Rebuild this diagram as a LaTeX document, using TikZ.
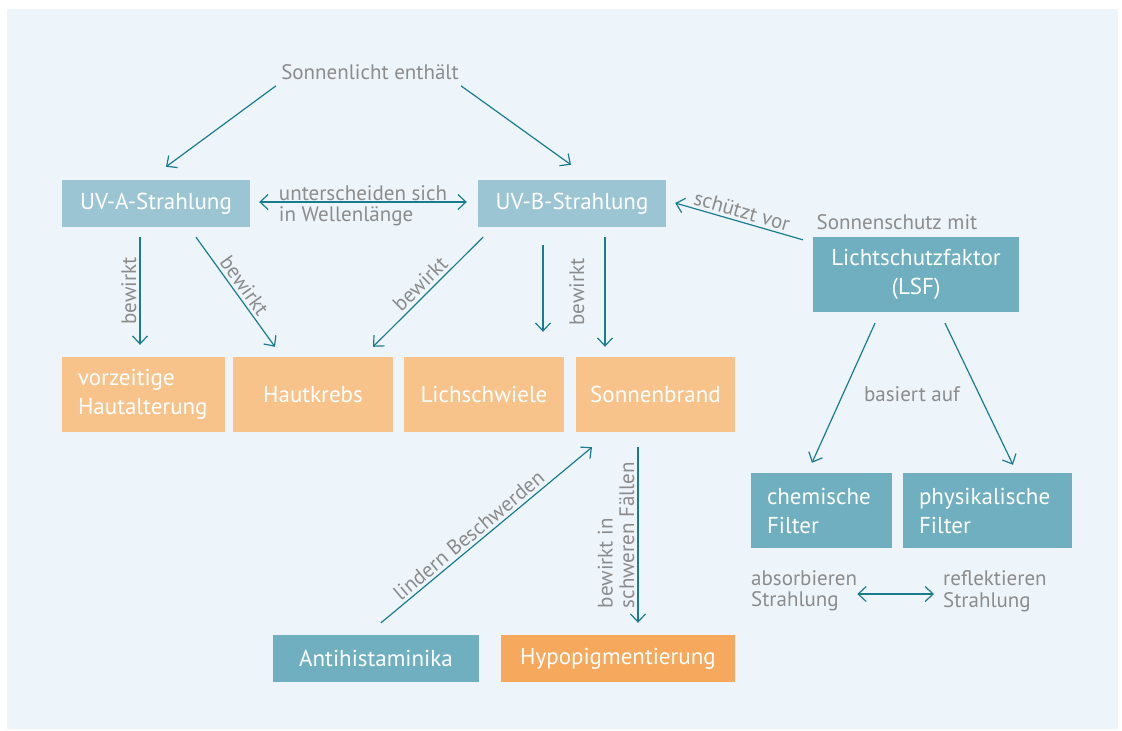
\documentclass[tikz,border=0pt]{standalone}
\usepackage{fontspec}
\setmainfont{PT Sans}
\usetikzlibrary{arrows.meta,calc}
\definecolor{sunbg}{HTML}{EDF4FA}
\definecolor{uvblue}{HTML}{9CC5D3}
\definecolor{lsfblue}{HTML}{6FAFC0}
\definecolor{burnlight}{HTML}{F8C38B}
\definecolor{burndark}{HTML}{F6A85C}
\definecolor{arrowteal}{HTML}{1A7D8F}
\definecolor{lblgray}{HTML}{8C8C8C}

\begin{document}
\begin{tikzpicture}[x=1pt,y=-1pt,
  box/.style={inner sep=0pt, text=white, align=center,
    font=\fontsize{23}{29}\selectfont},
  leftbox/.style={box, inner xsep=16pt, align=left},
  lbl/.style={text=lblgray, inner sep=3pt, font=\fontsize{21}{21.5}\selectfont},
  arr/.style={draw=arrowteal, line width=1.2pt,
    -{Straight Barb[length=8pt,width=15pt,line width=1.2pt]}},
  dblarr/.style={arr, {Straight Barb[length=8pt,width=15pt,line width=1.2pt]}-{Straight Barb[length=8pt,width=15pt,line width=1.2pt]}}]
  \useasboundingbox (0,0) rectangle (1122,731);
  \fill[sunbg] (7,9) rectangle (1118,729);

  % radiation
  \node[lbl] (licht) at (370,72) {Sonnenlicht enthält};
  \node[box, fill=uvblue, minimum width=188pt, minimum height=47pt] (uva) at (156,203.5) {UV-A-Strahlung};
  \node[box, fill=uvblue, minimum width=188pt, minimum height=47pt] (uvb) at (572,203.5) {UV-B-Strahlung};

  % effects
  \node[leftbox, fill=burnlight, text width=131pt, minimum height=75pt] (vorz) at (143.5,394.5) {vorzeitige\\Hautalterung};
  \node[box, fill=burnlight, minimum width=160pt, minimum height=75pt] (haut) at (313,394.5) {Hautkrebs};
  \node[box, fill=burnlight, minimum width=160pt, minimum height=75pt] (lich) at (484,394.5) {Lichschwiele};
  \node[box, fill=burnlight, minimum width=159pt, minimum height=75pt] (sonn) at (655.5,394.5) {Sonnenbrand};
  \node[box, fill=lsfblue, minimum width=206pt, minimum height=47pt] (anti) at (376,658.5) {Antihistaminika};
  \node[box, fill=burndark, minimum width=234pt, minimum height=47pt] (hypo) at (618,658.5) {Hypopigmentierung};

  % protection
  \node[lbl] (schutz) at (897,222) {Sonnenschutz mit};
  \node[box, fill=lsfblue, minimum width=206pt, minimum height=75pt] (lsf) at (916,274.5) {Lichtschutzfaktor\\(LSF)};
  \node[lbl] (basis) at (912,394) {basiert auf};
  \node[leftbox, fill=lsfblue, text width=109pt, minimum height=75pt] (chem) at (821.5,510.5) {chemische\\Filter};
  \node[leftbox, fill=lsfblue, text width=137pt, minimum height=75pt] (phys) at (987.5,510.5) {physikalische\\Filter};
  \node[lbl, inner sep=0pt, anchor=west, align=left] (absorb) at (751,591) {absorbieren\\Strahlung};
  \node[lbl, inner sep=0pt, anchor=west, align=left] (reflekt) at (943,591) {reflektieren\\Strahlung};

  \draw[arr] ([xshift=-94pt,yshift=-3pt]licht.south) -- ([xshift=10pt,yshift=13pt]uva.north);
  \draw[arr] ([xshift=91pt,yshift=-3pt]licht.south) -- ([xshift=-1pt,yshift=15pt]uvb.north);
  \draw[dblarr] ([xshift=9pt,yshift=1.5pt]uva.east) -- ([xshift=-11pt,yshift=1.5pt]uvb.west)
    node[lbl, midway, yshift=-4pt, align=left] {unterscheiden sich\\in Wellenlänge};
  \draw[arr] ([xshift=-10pt,yshift=-3pt]lsf.north west) -- ([xshift=9pt,yshift=0.5pt]uvb.east)
    node[lbl, midway, sloped, above] {schützt vor};

  \draw[arr] ([xshift=-16pt,yshift=-10pt]uva.south) -- ([xshift=-3.5pt,yshift=12pt]vorz.north)
    node[lbl, midway, rotate=90, anchor=south] {bewirkt};
  \draw[arr] ([xshift=40pt,yshift=-10pt]uva.south) -- ([xshift=-38pt,yshift=10pt]haut.north)
    node[lbl, midway, sloped, above] {bewirkt};
  \draw[arr] ([xshift=-89pt,yshift=-10pt]uvb.south) -- ([xshift=60pt,yshift=10pt]haut.north)
    node[lbl, midway, sloped, above] {bewirkt};
  \draw[arr] ([xshift=-29pt,yshift=-18pt]uvb.south) -- ([xshift=59pt,yshift=25pt]lich.north);
  \draw[arr] ([xshift=33pt,yshift=-10pt]uvb.south) -- ([xshift=-50.5pt,yshift=10pt]sonn.north)
    node[lbl, pos=.5, xshift=-17pt, rotate=90, anchor=south] {bewirkt};

  \draw[arr] ([xshift=-17.5pt,yshift=-15pt]sonn.south) -- ([xshift=20pt,yshift=12pt]hypo.north)
    node[lbl, midway, rotate=90, anchor=south, align=left] {bewirkt in\\schweren Fällen};
  \draw[arr] ([xshift=5pt,yshift=12pt]anti.north) -- ([xshift=-63.5pt,yshift=-15pt]sonn.south)
    node[lbl, pos=.45, sloped, above] {lindern Beschwerden};

  \draw[arr] ([xshift=-41pt,yshift=-11pt]lsf.south) -- ([xshift=-9.5pt,yshift=10pt]chem.north);
  \draw[arr] ([xshift=29pt,yshift=-11pt]lsf.south) -- ([xshift=25.5pt,yshift=8pt]phys.north);
  \draw[dblarr] ([yshift=-3pt]absorb.east) -- ([xshift=-9pt,yshift=-3pt]reflekt.west);
\end{tikzpicture}
\end{document}
